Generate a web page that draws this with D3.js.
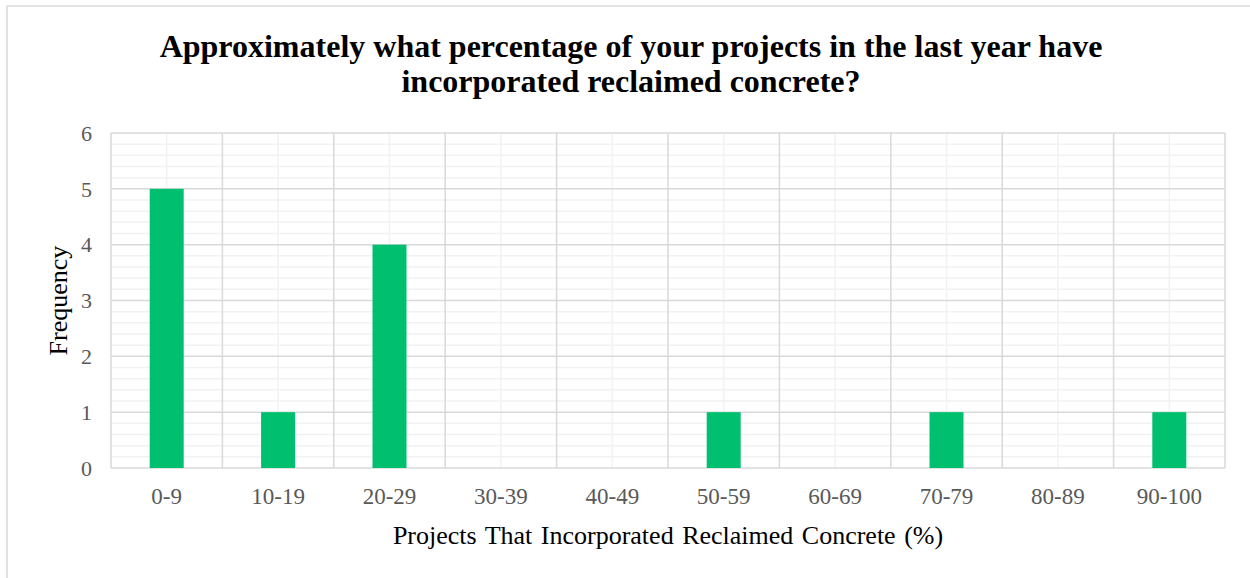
<!DOCTYPE html>
<html>
<head>
<meta charset="utf-8">
<script src="https://cdn.jsdelivr.net/npm/d3@7"></script>
<style>
  body { margin: 0; background: #fff; }
  text { font-family: 'Liberation Serif', 'Times New Roman', serif; }
</style>
</head>
<body>
<svg id="chart"></svg>
<script>
var categories = ['0-9', '10-19', '20-29', '30-39', '40-49', '50-59', '60-69', '70-79', '80-89', '90-100']
var frequency = [5, 1, 4, 0, 0, 1, 0, 1, 0, 1]
var yTicks = [0, 1, 2, 3, 4, 5, 6]
var titleLines = ['Approximately what percentage of your projects in the last year have',
  'incorporated reclaimed concrete?']

var svgWidth = 1250
var svgHeight = 578
var plot = { left: 111, right: 1225, top: 133, bottom: 468 }

var svg = d3.select('#chart')
  .attr('width', svgWidth)
  .attr('height', svgHeight)

// chart frame
svg.append('rect')
  .attr('x', 7).attr('y', 6)
  .attr('width', svgWidth).attr('height', svgHeight)
  .attr('fill', 'none')
  .attr('stroke', '#d9d9d9')
  .attr('stroke-width', 1.5)

var x = d3.scaleBand()
  .domain(categories)
  .range([plot.left, plot.right])
  .paddingInner(0).paddingOuter(0)

var y = d3.scaleLinear()
  .domain([0, 6])
  .range([plot.bottom, plot.top])

// minor gridlines
var minorY = d3.range(0, 30).map(function(i) { return i * 0.2 }).filter(function(v) { return Math.abs(v - Math.round(v)) > 0.01 })
svg.append('g').selectAll('line')
  .data(minorY).enter().append('line')
  .attr('x1', plot.left).attr('x2', plot.right)
  .attr('y1', function(d) { return y(d) }).attr('y2', function(d) { return y(d) })
  .attr('stroke', '#f2f2f2').attr('stroke-width', 1.5)

svg.append('g').selectAll('line')
  .data(categories).enter().append('line')
  .attr('x1', function(d) { return x(d) + x.bandwidth() / 2 })
  .attr('x2', function(d) { return x(d) + x.bandwidth() / 2 })
  .attr('y1', plot.top).attr('y2', plot.bottom)
  .attr('stroke', '#f2f2f2').attr('stroke-width', 1.5)

// major gridlines
svg.append('g').selectAll('line')
  .data(yTicks).enter().append('line')
  .attr('x1', plot.left).attr('x2', plot.right)
  .attr('y1', function(d) { return y(d) }).attr('y2', function(d) { return y(d) })
  .attr('stroke', '#d9d9d9').attr('stroke-width', 1.5)

var bounds = categories.map(function(d) { return x(d) }).concat([plot.right])
svg.append('g').selectAll('line')
  .data(bounds).enter().append('line')
  .attr('x1', function(d) { return d }).attr('x2', function(d) { return d })
  .attr('y1', plot.top).attr('y2', plot.bottom)
  .attr('stroke', '#d9d9d9').attr('stroke-width', 1.5)

// bars
var barW = 34
svg.append('g').selectAll('rect')
  .data(frequency).enter().append('rect')
  .attr('x', function(d, i) { return x(categories[i]) + x.bandwidth() / 2 - barW / 2 })
  .attr('y', function(d) { return y(d) })
  .attr('width', barW)
  .attr('height', function(d) { return y(0) - y(d) })
  .attr('fill', '#00bf6f')

// axes
var yAxis = svg.append('g')
  .attr('transform', 'translate(' + (plot.left - 19) + ',0)')
  .call(d3.axisLeft(y).tickValues(yTicks).tickFormat(d3.format('d')).tickSize(0).tickPadding(0))
yAxis.select('.domain').remove()
yAxis.selectAll('text')
  .attr('fill', '#595959').style('font-size', '22px')
  .attr('font-family', null)
  .attr('dy', '0.33em')

var xAxis = svg.append('g')
  .attr('transform', 'translate(0,' + plot.bottom + ')')
  .call(d3.axisBottom(x).tickSize(0).tickPadding(0))
xAxis.select('.domain').remove()
xAxis.selectAll('text')
  .attr('fill', '#595959').style('font-size', '23px')
  .attr('font-family', null)
  .attr('dy', null)
  .attr('y', 36)

// titles
svg.append('text')
  .attr('text-anchor', 'middle')
  .attr('font-weight', 'bold')
  .style('font-size', '32px')
  .selectAll('tspan')
  .data(titleLines).enter().append('tspan')
  .attr('x', 631)
  .attr('y', function(d, i) { return 57 + i * 35 })
  .text(function(d) { return d })

svg.append('text')
  .attr('x', 668)
  .attr('y', 544)
  .attr('text-anchor', 'middle')
  .style('font-size', '26px')
  .style('word-spacing', '2px')
  .text('Projects That Incorporated Reclaimed Concrete (%)')

svg.append('text')
  .attr('transform', 'translate(67,' + ((plot.top + plot.bottom) / 2) + ') rotate(-90)')
  .attr('text-anchor', 'middle')
  .style('font-size', '26px')
  .text('Frequency')
</script>
</body>
</html>
